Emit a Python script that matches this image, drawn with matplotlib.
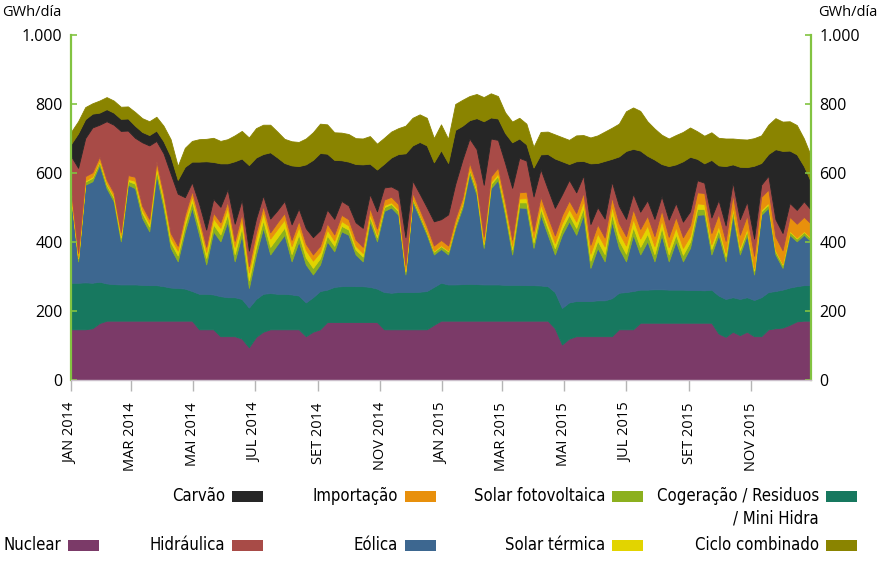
import matplotlib
matplotlib.use('Agg')
import matplotlib.pyplot as plt
from matplotlib import font_manager
from matplotlib.patches import Rectangle
import pandas as pd

# Fonte base
plt.rcParams['font.family'] = ['Open Sans', 'DejaVu Sans']

# Eixo do tempo: uma leitura por semana (1 jan 2014 .. 30 dez 2015)
semanas = pd.date_range('2014-01-01', periods=105, freq='7D')

# Valores semanais (GWh/dia), camadas de baixo para cima
nuclear = [
    147, 147, 147, 150, 165, 172, 172, 172, 172, 172, 172, 172, 172, 172, 172, 172, 172, 172,
    147, 147, 147, 127, 127, 127, 120, 95, 125, 140, 147, 147, 147, 147, 147, 127, 140, 147,
    168, 168, 168, 168, 168, 168, 168, 168, 147, 147, 147, 147, 147, 147, 147, 160, 172,
    172, 172, 172, 172, 172, 172, 172, 172, 172, 172, 172, 172, 172, 172, 172, 150, 103, 120,
    127, 127, 127, 127, 127, 127, 147, 147, 147, 166, 166, 166, 166, 166, 166, 166, 166, 166,
    166, 166, 135, 125, 140, 130, 140, 127, 127, 147, 150, 152, 160, 170, 172, 172]
cogeracao = [
    135, 135, 136, 132, 120, 108, 106, 105, 105, 105, 104, 103, 103, 100, 96, 95, 93, 86,
    103, 103, 101, 116, 113, 113, 115, 115, 110, 110, 105, 103, 103, 101, 98, 98, 100, 111,
    94, 102, 104, 105, 104, 104, 102, 97, 108, 106, 108, 108, 108, 109, 111, 110, 110,
    105, 105, 106, 107, 106, 105, 105, 105, 104, 104, 104, 103, 103, 102, 100, 105, 106, 105,
    102, 102, 102, 104, 104, 110, 106, 108, 111, 96, 96, 97, 97, 96, 96, 96, 95, 95, 94, 96,
    110, 110, 100, 105, 100, 105, 113, 108, 108, 110, 108, 102, 103, 103]
eolica = [
    245, 62, 283, 294, 339, 276, 240, 125, 289, 279, 194, 156, 320, 227, 115, 77, 166, 242,
    171, 85, 183, 159, 220, 104, 186, 57, 129, 191, 112, 143, 171, 96, 157, 110, 66, 77,
    140, 103, 159, 148, 92, 72, 190, 137, 235, 247, 224, 51, 263, 214, 163, 94, 98,
    87, 164, 221, 321, 259, 106, 279, 303, 203, 88, 224, 224, 108, 205, 149, 109, 212, 235,
    192, 250, 96, 152, 113, 223, 130, 89, 163, 102, 140, 81, 158, 82, 140, 82, 122, 218, 220,
    102, 176, 109, 239, 129, 181, 74, 239, 244, 106, 63, 153, 130, 146, 127]
solar_fv = [
    8, 9, 9, 10, 9, 10, 10, 11, 11, 13, 14, 14, 15, 16, 16, 17, 18, 18, 19, 19, 20, 20,
    21, 21, 22, 22, 22, 22, 22, 21, 21, 21, 20, 20, 19, 18, 17, 16, 16, 15, 14, 14, 13, 12,
    11, 10, 10, 9, 8, 8, 8, 8, 8,
    9, 9, 10, 10, 11, 11, 12, 12, 14, 15, 15, 16, 16, 17, 17, 18, 18, 19, 20, 20, 21,
    21, 21, 22, 22, 22, 22, 22, 22, 21, 21, 20, 20, 19, 18, 17, 16, 16, 15, 14, 14, 13, 12,
    11, 10, 10, 9, 9, 9, 8, 8, 8]
solar_termica = [
    3, 3, 3, 4, 4, 5, 5, 6, 6, 8, 9, 10, 11, 12, 13, 14, 15, 15, 16, 17, 18, 19,
    20, 21, 22, 23, 24, 24, 24, 24, 23, 23, 22, 22, 21, 18, 17, 15, 14, 12, 11, 10, 9, 8,
    6, 5, 5, 4, 3, 3, 3, 3, 3,
    3, 3, 4, 4, 5, 6, 6, 7, 9, 10, 11, 12, 13, 14, 14, 15, 16, 17, 18, 19, 20,
    21, 22, 22, 23, 24, 24, 24, 24, 23, 22, 21, 21, 20, 17, 16, 14, 13, 12, 11, 10, 9, 8,
    6, 5, 5, 4, 3, 3, 3, 3, 3]
importacao = [
    12, 12, 13, 12, 11, 10, 10, 10, 11, 12, 12, 12, 13, 14, 14, 14, 15, 15, 15, 15, 16, 16,
    17, 17, 18, 18, 18, 18, 18, 19, 19, 18, 18, 18, 18, 18, 18, 18, 18, 18, 18, 18, 17, 17,
    16, 16, 16, 15, 14, 14, 14, 15, 15,
    14, 15, 15, 16, 16, 16, 16, 17, 17, 18, 18, 19, 20, 21, 22, 22, 23, 24, 25, 25, 26,
    26, 26, 26, 27, 27, 28, 28, 28, 29, 29, 30, 30, 31, 31, 32, 32, 33, 34, 34, 35, 35, 36,
    37, 37, 38, 39, 39, 40, 40, 41, 40]
hidraulica = [
    99, 247, 110, 130, 92, 169, 197, 293, 129, 113, 184, 213, 59, 116, 172, 151, 51, 25,
    40, 50, 40, 45, 35, 50, 40, 45, 40, 30, 40, 35, 35, 45, 35, 45, 50, 45, 40, 45, 40, 40,
    50, 55, 40, 50, 35, 30, 40, 80, 35, 45, 55, 70, 60,
    90, 100, 110, 70, 100, 150, 110, 80, 110, 150, 100, 90, 100, 80, 80, 80, 60, 60, 60,
    50, 60, 50, 55, 45, 50, 50, 45, 50, 45, 50, 40, 50, 40, 45, 40, 35, 30, 45, 40, 45, 35,
    45, 40, 50, 35, 40, 50, 50, 40, 40, 45, 40]
carvao = [
    35, 100, 55, 40, 35, 35, 35, 35, 35, 35, 30, 30, 30, 35, 50, 40, 88, 60,
    122, 198, 107, 126, 75, 181, 119, 248, 177, 120, 192, 153, 110, 171, 123, 185, 224, 224,
    162, 171, 118, 127, 169, 184, 88, 121, 69, 84, 105, 243, 102, 150, 179, 171, 200,
    149, 157, 99, 53, 90, 184, 61, 62, 87, 132, 56, 47, 84, 43, 101, 143, 96, 46, 90,
    42, 176, 128, 167, 66, 143, 197, 130, 177, 129, 172, 93, 155, 112, 175, 158, 62, 56, 167,
    100, 172, 52, 152, 100, 211, 63, 63, 203, 238, 152, 161, 102, 81]
ciclo_combinado = [
    35, 35, 35, 30, 35, 35, 35, 35, 35, 40, 40, 40, 40, 45, 50, 40, 55, 60, 65, 65, 70, 65,
    70, 75, 80, 80, 85, 85, 80, 75, 70, 70, 70, 75, 80, 85, 85, 80, 80, 80, 75, 75, 80, 75,
    75, 75, 75, 80, 80, 80, 80, 70, 75,
    70, 75, 75, 70, 70, 70, 70, 65, 60, 60, 60, 60, 60, 65, 65, 70, 70, 70, 75, 75, 75,
    80, 85, 90, 95, 115, 120, 115, 100, 90, 85, 80, 85, 85, 85, 80, 80, 80, 80, 80, 75,
    80, 80, 80, 80, 85, 90, 85, 85, 85, 80, 75]

series = [nuclear, cogeracao, eolica, solar_fv, solar_termica,
          importacao, hidraulica, carvao, ciclo_combinado]
cores = ['#7b3a68', '#17785f', '#3d6790', '#8cb01e', '#e2d400',
         '#e8900c', '#a84b47', '#262626', '#8a8400']

ticks_x = [pd.Timestamp(f'{a}-{m:02d}-01') for a in (2014, 2015) for m in (1, 3, 5, 7, 9, 11)]
rotulos_x = [f'{m} {a}' for a in (2014, 2015) for m in ('JAN', 'MAR', 'MAI', 'JUL', 'SET', 'NOV')]

VERDE = '#82c341'
W, H = 884, 565

# Fonte estreita para a legenda, se houver alguma instalada
fonte_leg, stretch_leg, tam_leg = 'Roboto', 'normal', 10.5
for f in font_manager.fontManager.ttflist:
    if f.stretch in ('condensed', 'semi-condensed') or 'Narrow' in f.name or 'Condensed' in f.name:
        fonte_leg, stretch_leg, tam_leg = f.name, f.stretch, 12
        break

fig = plt.figure(figsize=(W / 100, H / 100), dpi=100)
ax = fig.add_axes([71 / W, 185 / H, 740 / W, 345 / H])

polys = ax.stackplot(semanas, *series, colors=cores, linewidth=0)
for p, c in zip(polys, cores):
    p.set_edgecolor(c)
    p.set_linewidth(0.6)

ax.set_xlim(semanas[0], semanas[-1])
ax.set_ylim(0, 1000)

# Eixos
ax.spines['top'].set_visible(False)
for lado in ('left', 'right'):
    ax.spines[lado].set_color(VERDE)
    ax.spines[lado].set_linewidth(1.6)
ax.spines['bottom'].set_color('#cbbfcb')
ax.spines['bottom'].set_linewidth(1.0)

ax.set_yticks(range(0, 1001, 200))
ax.set_yticklabels(['0', '200', '400', '600', '800', '1.000'])
ax.tick_params(axis='y', direction='in', length=4, width=1.2, color=VERDE,
               left=True, right=True, labelleft=True, labelright=True,
               labelsize=11.5, pad=6)

ax.set_xticks(ticks_x)
ax.set_xticklabels(rotulos_x, rotation=90)
ax.tick_params(axis='x', direction='out', length=8, width=1, color='#b5b5b5',
               labelsize=10.5, pad=8)

fig.text(2 / W, 1 - 13 / H, 'GWh/día', fontsize=10.5, ha='left', va='center')
fig.text(818 / W, 1 - 13 / H, 'GWh/día', fontsize=10.5, ha='left', va='center')

# Legenda desenhada à mão (texto à esquerda da caixa)
legenda = [
    ('Carvão', '#262626', 232, 496),
    ('Importação', '#e8900c', 405, 496),
    ('Solar fotovoltaica', '#8cb01e', 612, 496),
    ('Cogeração / Residuos\n/ Mini Hidra', '#17785f', 826, 496),
    ('Nuclear', '#7b3a68', 68, 545),
    ('Hidráulica', '#a84b47', 232, 545),
    ('Eólica', '#3d6790', 405, 545),
    ('Solar térmica', '#e2d400', 612, 545),
    ('Ciclo combinado', '#8a8400', 826, 545),
]
for texto, cor, xb, yb in legenda:
    fig.patches.append(Rectangle((xb / W, 1 - (yb + 6) / H), 31 / W, 11 / H,
                                 transform=fig.transFigure, facecolor=cor,
                                 edgecolor='none'))
    if '\n' in texto:
        fig.text((xb - 7) / W, 1 - (yb - 9) / H, texto, family=fonte_leg,
                 stretch=stretch_leg, fontsize=tam_leg, ha='right', va='top',
                 linespacing=1.35)
    else:
        fig.text((xb - 7) / W, 1 - yb / H, texto, family=fonte_leg,
                 stretch=stretch_leg, fontsize=tam_leg, ha='right', va='center')

fig.savefig('out.png', dpi=100)
